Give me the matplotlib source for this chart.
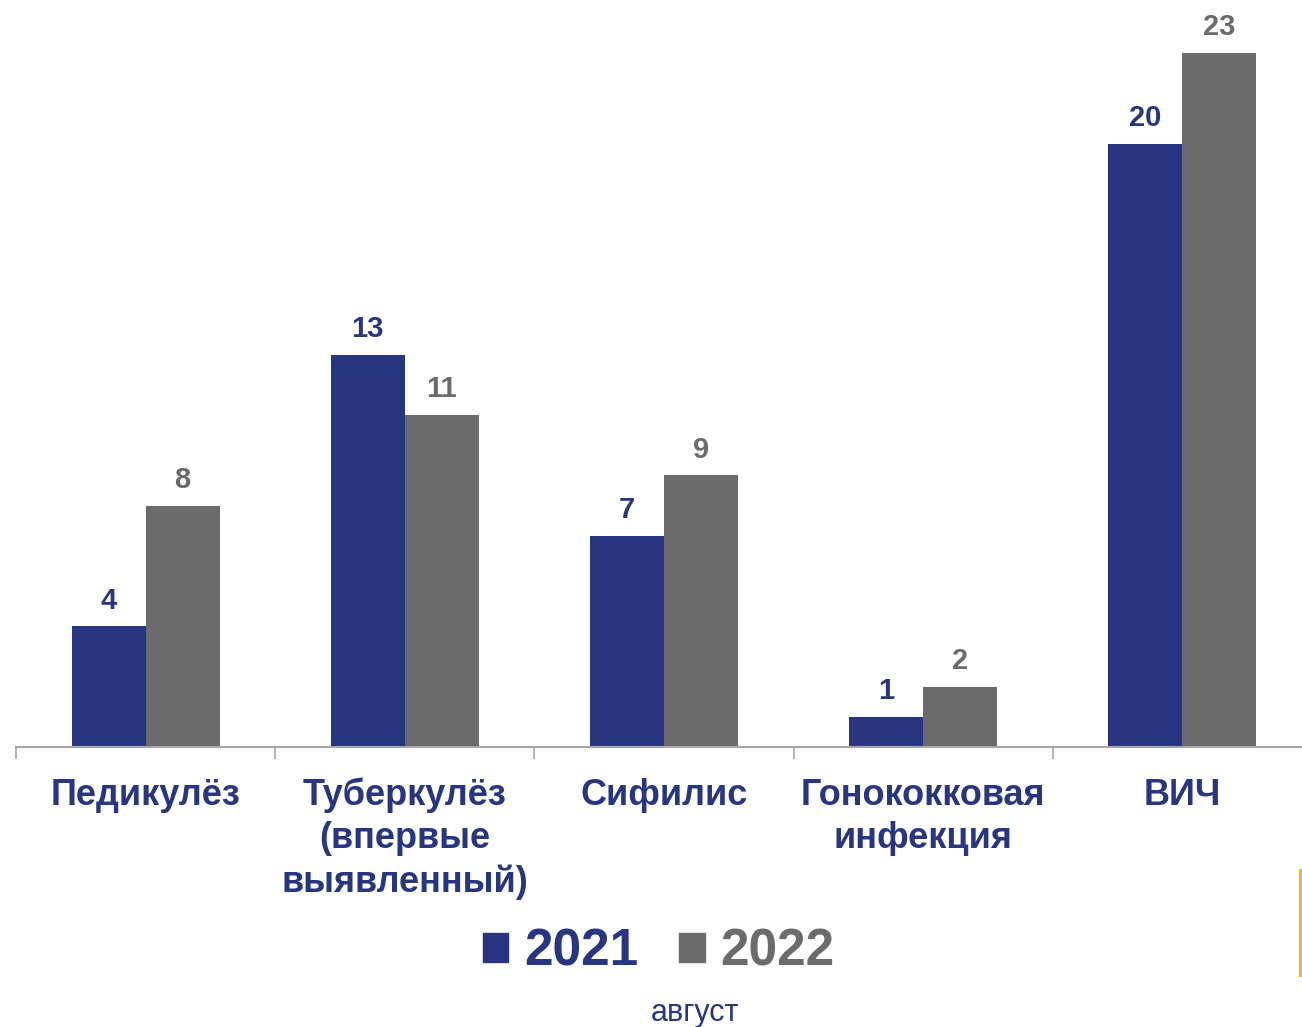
import matplotlib.pyplot as plt
from matplotlib.patches import Patch
from matplotlib.lines import Line2D

categories = ['Педикулёз', 'Туберкулёз\n(впервые\nвыявленный)', 'Сифилис',
              'Гонококковая\nинфекция', 'ВИЧ']
vals_2021 = [4, 13, 7, 1, 20]
vals_2022 = [8, 11, 9, 2, 23]
years = ['2021', '2022']

blue = '#283580'
gray = '#6b6b6b'
plt.rcParams['font.family'] = ['Liberation Sans', 'DejaVu Sans']

fig = plt.figure(figsize=(13.02, 10.27), dpi=100)
ax = fig.add_axes([16 / 1302, 1 - 747 / 1027, 1 - 16 / 1302, 747 / 1027])

x = list(range(len(categories)))
w = 74 / 259
b1 = ax.bar([i - w / 2 for i in x], vals_2021, w, color=blue)
b2 = ax.bar([i + w / 2 for i in x], vals_2022, w, color=gray)

for bars, col in ((b1, blue), (b2, gray)):
    for r in bars:
        ax.annotate(str(int(r.get_height())), (r.get_x() + r.get_width() / 2, r.get_height()),
                    xytext=(0, 18.5), textcoords='offset points', ha='center', va='center',
                    fontsize=21, fontweight='bold', color=col)

ax.set_xlim(-0.5, 4.5 - 10 / 259)
ax.set_ylim(0, 747 / 30.17)
for s in ['top', 'right', 'left']:
    ax.spines[s].set_visible(False)
ax.spines['bottom'].set_color('#a6a6a6')
ax.spines['bottom'].set_linewidth(1.5)
ax.set_yticks([])
ax.set_xticks(x)
ax.set_xticklabels(categories, fontsize=26, fontweight='bold', color=blue, linespacing=1.3)
ax.tick_params(axis='x', which='major', length=0, pad=22)
ax.set_xticks([i - 0.5 for i in x], minor=True)
ax.tick_params(axis='x', which='minor', length=8.5, width=1.2, color='#a6a6a6')

handles = [Patch(color=blue), Patch(color=gray)]
leg = fig.legend(handles, years, loc='center', bbox_to_anchor=(0.5058, 0.073), ncol=2,
                 frameon=False, handlelength=0.5, handleheight=0.5, handletextpad=0.3,
                 columnspacing=0.8, prop={'size': 37, 'weight': 'bold'})
for t, col in zip(leg.get_texts(), (blue, gray)):
    t.set_color(col)

fig.text(695 / 1302, 1 - 1013 / 1027, 'август', ha='center', va='center', fontsize=22, color=blue)
fig.add_artist(Line2D([1300 / 1302, 1300 / 1302], [1 - 975 / 1027, 1 - 870 / 1027],
                      color='#f9b71a', linewidth=2.2, transform=fig.transFigure))

fig.savefig('out.png', dpi=100)
